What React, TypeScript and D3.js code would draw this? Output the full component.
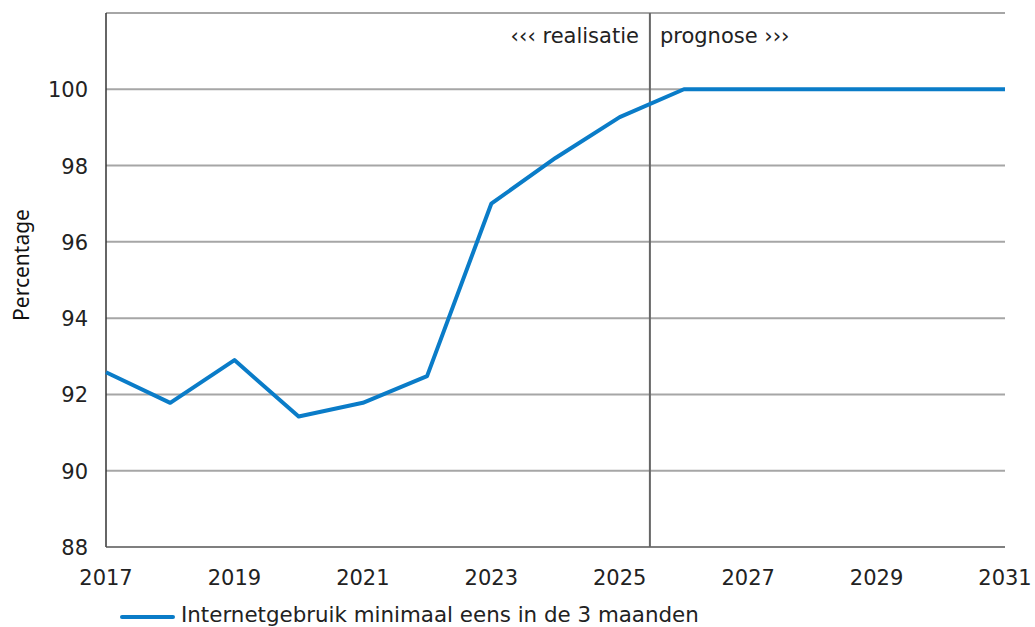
import React from "react";
import * as d3 from "d3";

const years = [2017, 2018, 2019, 2020, 2021, 2022, 2023, 2024, 2025, 2026, 2027, 2028, 2029, 2030, 2031];
const values = [92.58, 91.78, 92.9, 91.42, 91.78, 92.48, 97.0, 98.2, 99.27, 100, 100, 100, 100, 100, 100];
const xTicks = [2017, 2019, 2021, 2023, 2025, 2027, 2029, 2031];
const yTicks = [88, 90, 92, 94, 96, 98, 100];
const splitYear = 2025.47;
const seriesName = "Internetgebruik minimaal eens in de 3 maanden";

export default function App() {
  const W = 1035, H = 627;
  const left = 106, right = 1005, top = 13, bottom = 547;
  const x = d3.scaleLinear().domain([2017, 2031]).range([left, right]);
  const y = d3.scaleLinear().domain([88, 102]).range([bottom, top]);
  const line = d3.line<number>().x((_, i) => x(years[i])).y((d) => y(d));
  const font = "Verdana, 'DejaVu Sans', sans-serif";
  return (
    <svg width={W} height={H} style={{ position: "absolute", left: 0, top: 0 }}>
      <rect width={W} height={H} fill="#fff" />
      {[...yTicks, 102].filter((t) => t > 88).map((t) => (
        <line key={t} x1={left} x2={right} y1={y(t)} y2={y(t)} stroke="#a6a6a6" strokeWidth={2} />
      ))}
      <line x1={left} x2={left} y1={top} y2={bottom} stroke="#333" strokeWidth={1.5} />
      <line x1={left} x2={right} y1={bottom} y2={bottom} stroke="#555" strokeWidth={1.5} />
      <line x1={x(splitYear)} x2={x(splitYear)} y1={top} y2={bottom} stroke="#666" strokeWidth={2} />
      <text x={x(splitYear) - 11} y={43} textAnchor="end" fontFamily={font} fontSize={21} fill="#222">‹‹‹ realisatie</text>
      <text x={x(splitYear) + 10} y={43} textAnchor="start" fontFamily={font} fontSize={21} fill="#222">prognose ›››</text>
      <path d={line(values) || ""} fill="none" stroke="#0a7cc8" strokeWidth={4} strokeLinejoin="round" />
      {yTicks.map((t) => (
        <text key={t} x={88} y={y(t) + 8} textAnchor="end" fontFamily={font} fontSize={21} fill="#222">{t}</text>
      ))}
      {xTicks.map((t) => (
        <text key={t} x={x(t)} y={585} textAnchor="middle" fontFamily={font} fontSize={21} fill="#222">{t}</text>
      ))}
      <text transform={`translate(29,265) rotate(-90)`} textAnchor="middle" fontFamily="'Noto Sans', sans-serif" fontSize={21} fill="#111">Percentage</text>
      <line x1={122} x2={173} y1={617} y2={617} stroke="#0a7cc8" strokeWidth={4} strokeLinecap="round" />
      <text x={181} y={622} fontFamily={font} fontSize={21.4} fill="#222">{seriesName}</text>
    </svg>
  );
}
